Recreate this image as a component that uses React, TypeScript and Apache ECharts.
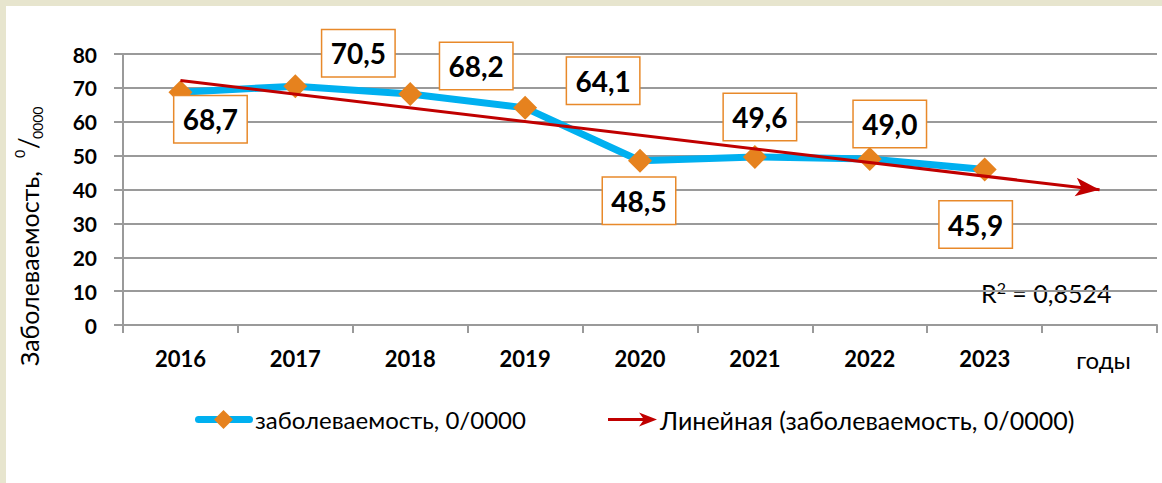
import React, { useEffect, useRef } from "react";
import * as echarts from "echarts";

const YEARS = ["2016", "2017", "2018", "2019", "2020", "2021", "2022", "2023"];
const AXIS_UNIT = "годы";
const VALUES = [68.7, 70.5, 68.2, 64.1, 48.5, 49.6, 49.0, 45.9];
// linear trend: value at 2016 and at the extended end (the "годы" slot)
const TREND = [72.2, 39.9];
const Y_MIN = 0;
const Y_MAX = 80;
const Y_STEP = 10;
const R2_VALUE = "0,8524";
const SERIES_NAME = "заболеваемость, 0/0000";
const TREND_NAME = "Линейная (заболеваемость, 0/0000)";

// label box offsets relative to the points (style only)
const LABEL_OFFSETS: [number, number][] = [
  [30, 27],
  [63, -33],
  [66, -28],
  [78, -27],
  [-1, 40],
  [5, -40],
  [20, -35],
  [-9, 55],
];

const FONT = "Lato, 'Noto Sans', sans-serif";
const BLUE = "#00B0F0";
const ORANGE = "#E6821E";
const RED = "#C00000";
const GRID = "#9a9a9a";

export default function App() {
  const ref = useRef<HTMLDivElement>(null);

  useEffect(() => {
    document.body.style.margin = "0";
    if (!ref.current) return;
    const chart = echarts.init(ref.current, undefined, { renderer: "svg" });
    const cats = [...YEARS, AXIS_UNIT];

    const option: any = {
      animation: false,
      textStyle: { fontFamily: FONT },
      grid: { left: 123, top: 54, right: 5, bottom: 158 },
      xAxis: {
        type: "category",
        data: cats,
        boundaryGap: true,
        axisLine: { show: true, lineStyle: { color: GRID, width: 2 } },
        axisTick: { show: true, alignWithLabel: false, length: 8, lineStyle: { color: GRID, width: 2 } },
        axisLabel: {
          margin: 22,
          interval: 0,
          color: "#000",
          fontFamily: FONT,
          fontSize: 22,
          fontWeight: "bold",
          formatter: (v: string) => (v === AXIS_UNIT ? `{r|${v}}` : v),
          rich: { r: { fontFamily: FONT, fontSize: 24, fontWeight: "normal", color: "#000", padding: [0, 0, 0, 8] } },
        },
        splitLine: { show: false },
      },
      yAxis: {
        type: "value",
        min: Y_MIN,
        max: Y_MAX,
        interval: Y_STEP,
        axisLine: { show: true, lineStyle: { color: GRID, width: 2 } },
        axisTick: { show: true, length: 9, lineStyle: { color: GRID, width: 2 } },
        axisLabel: { margin: 26, color: "#000", fontFamily: FONT, fontSize: 21, fontWeight: "bold" },
        splitLine: { show: true, lineStyle: { color: GRID, width: 2 } },
      },
      series: [
        {
          name: SERIES_NAME,
          type: "line",
          z: 2,
          data: VALUES.map((v, i) => ({ value: v, label: { offset: LABEL_OFFSETS[i] } })),
          lineStyle: { color: BLUE, width: 7 },
          itemStyle: { color: ORANGE },
          symbol: "diamond",
          symbolSize: 24,
          showAllSymbol: true,
          label: {
            show: true,
            position: "inside",
            formatter: (p: any) => Number(p.value).toFixed(1).replace(".", ","),
            color: "#000",
            fontFamily: FONT,
            fontSize: 28,
            fontWeight: "bold",
            backgroundColor: "#fff",
            borderColor: "#E8892A",
            borderWidth: 1.5,
            width: 72,
            height: 46,
            lineHeight: 46,
            padding: 0,
            align: "center",
            verticalAlign: "middle",
          },
        },
        {
          name: TREND_NAME,
          type: "line",
          z: 5,
          data: [],
          markLine: {
            silent: true,
            z: 5,
            symbol: ["none", "arrow"],
            symbolSize: [14, 24],
            label: { show: false },
            lineStyle: { color: RED, width: 3, type: "solid" },
            emphasis: { disabled: true },
            data: [
              [
                { coord: [YEARS[0], TREND[0]] },
                { coord: [AXIS_UNIT, TREND[1]] },
              ],
            ],
          },
        },
      ],
      graphic: [
        {
          type: "text",
          x: 981,
          y: 293,
          style: {
            text: `R{s|2} = ${R2_VALUE}`,
            font: `25px ${FONT}`,
            fill: "#000",
            verticalAlign: "middle",
            align: "left",
            rich: { s: { fontSize: 16, fontFamily: FONT, verticalAlign: "top", lineHeight: 27, fill: "#000" } },
          },
        },
        {
          type: "group",
          x: 29,
          y: 366,
          rotation: Math.PI / 2,
          children: [
            { type: "text", x: 0, y: 0, style: { text: "Заболеваемость,", font: `25px ${FONT}`, fill: "#000", verticalAlign: "middle" } },
            { type: "text", x: 208, y: -10, style: { text: "0", font: `14px ${FONT}`, fill: "#000", verticalAlign: "middle" } },
            { type: "text", x: 217, y: -1, style: { text: "/", font: `26px ${FONT}`, fill: "#000", verticalAlign: "middle" } },
            { type: "text", x: 227, y: 8, style: { text: "0000", font: `14px ${FONT}`, fill: "#000", verticalAlign: "middle" } },
          ],
        },
        // legend
        {
          type: "line",
          shape: { x1: 198.5, y1: 419.5, x2: 249.5, y2: 419.5 },
          style: { stroke: BLUE, lineWidth: 7, lineCap: "round" },
        },
        {
          type: "polygon",
          shape: { points: [[223.5, 410], [233, 419.5], [223.5, 429], [214, 419.5]] },
          style: { fill: ORANGE },
        },
        {
          type: "text",
          x: 255,
          y: 419.5,
          style: { text: SERIES_NAME, font: `24px ${FONT}`, fill: "#000", verticalAlign: "middle" },
        },
        {
          type: "line",
          shape: { x1: 608, y1: 419.5, x2: 646, y2: 419.5 },
          style: { stroke: RED, lineWidth: 3 },
        },
        {
          type: "polygon",
          shape: { points: [[657, 419.5], [639, 412.5], [644, 419.5], [639, 426.5]] },
          style: { fill: RED },
        },
        {
          type: "text",
          x: 660,
          y: 419.5,
          style: { text: TREND_NAME, font: `25px ${FONT}`, fill: "#000", verticalAlign: "middle" },
        },
      ],
    };

    chart.setOption(option);
    return () => chart.dispose();
  }, []);

  return (
    <div style={{ position: "relative", width: 1162, height: 483, background: "#E7E5CE", overflow: "hidden" }}>
      <div style={{ position: "absolute", left: 6, top: 6, right: 0, bottom: 0, background: "#fff" }} />
      <div ref={ref} style={{ position: "absolute", left: 0, top: 0, width: 1162, height: 483 }} />
    </div>
  );
}
